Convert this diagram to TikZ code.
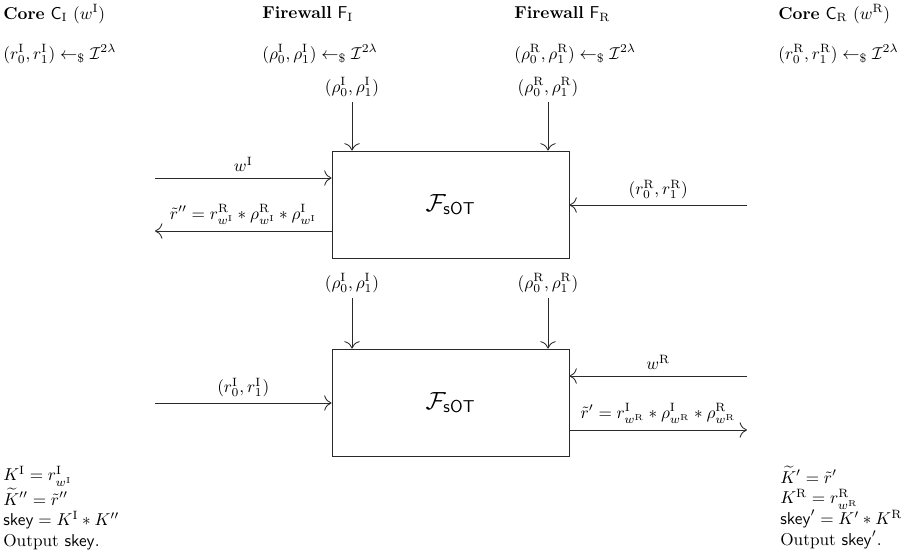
\documentclass[tikz,border=0pt]{standalone}
\usepackage{amsmath}
\usepackage{amssymb}
\usepackage{tikz}
\usetikzlibrary{arrows.meta, positioning, calc}
\definecolor{lineink}{HTML}{2A2A2A}
\tikzset{
  sotbox/.style={draw=lineink, minimum width=137.7pt, minimum height=62.2pt, inner sep=0pt,
    font=\Large, line width=0.5pt},
  head/.style={anchor=west, inner sep=0pt},
  block/.style={anchor=north west, inner sep=0pt, align=left},
  flow/.style={-{To[length=1.5mm]}, draw=lineink, line width=0.5pt}
}

\begin{document}
\begin{tikzpicture}[x=0.581pt, y=-0.581pt]
\useasboundingbox (0,0) rectangle (907,551);
\node[head] (coreI) at (3,14) {\textbf{Core} $\mathsf{C}_{\mathrm{I}}$ $(w^{\mathrm{I}})$};
\node[head] (fwI) at (262,14) {\textbf{Firewall} $\mathsf{F}_{\mathrm{I}}$};
\node[head] (fwR) at (514,14) {\textbf{Firewall} $\mathsf{F}_{\mathrm{R}}$};
\node[head] (coreR) at (778,14) {\textbf{Core} $\mathsf{C}_{\mathrm{R}}$ $(w^{\mathrm{R}})$};
\node[head] (sampI) at (3,54) {$(r^{\mathrm{I}}_0, r^{\mathrm{I}}_1) \leftarrow_{\$} \mathcal{I}^{2\lambda}$};
\node[head] (sampFI) at (262,54) {$(\rho^{\mathrm{I}}_0, \rho^{\mathrm{I}}_1) \leftarrow_{\$} \mathcal{I}^{2\lambda}$};
\node[head] (sampFR) at (514,54) {$(\rho^{\mathrm{R}}_0, \rho^{\mathrm{R}}_1) \leftarrow_{\$} \mathcal{I}^{2\lambda}$};
\node[head] (sampR) at (778,54) {$(r^{\mathrm{R}}_0, r^{\mathrm{R}}_1) \leftarrow_{\$} \mathcal{I}^{2\lambda}$};
\node[sotbox] (sotA) at (450.5,204.5) {$\mathcal{F}_{\mathsf{sOT}}$};
\node[sotbox] (sotB) at (450.5,402.5) {$\mathcal{F}_{\mathsf{sOT}}$};
\node (rhoIa) at (352,87) {$(\rho^{\mathrm{I}}_0, \rho^{\mathrm{I}}_1)$};
\node (rhoRa) at (548,87) {$(\rho^{\mathrm{R}}_0, \rho^{\mathrm{R}}_1)$};
\node (rhoIb) at (352,283) {$(\rho^{\mathrm{I}}_0, \rho^{\mathrm{I}}_1)$};
\node (rhoRb) at (548,283) {$(\rho^{\mathrm{R}}_0, \rho^{\mathrm{R}}_1)$};
\coordinate (inA) at (155,178);
\coordinate (outA) at (155,231);
\coordinate (inRA) at (747,205);
\coordinate (inLB) at (155,403);
\coordinate (inB) at (747,376);
\coordinate (outB) at (747,430);
\draw[flow] (rhoIa) -- (rhoIa |- sotA.north); \draw[flow] (rhoRa) -- (rhoRa |- sotA.north);
\draw[flow] (rhoIb) -- (rhoIb |- sotB.north); \draw[flow] (rhoRb) -- (rhoRb |- sotB.north);
\draw[flow] (inA) -- node[above] {$w^{\mathrm{I}}$} (inA -| sotA.west);
\draw[flow] (outA -| sotA.west) -- node[above] {$\tilde{r}'' = r^{\mathrm{R}}_{w^{\mathrm{I}}} * \rho^{\mathrm{R}}_{w^{\mathrm{I}}} * \rho^{\mathrm{I}}_{w^{\mathrm{I}}}$} (outA);
\draw[flow] (inRA) -- node[above] {$(r^{\mathrm{R}}_0, r^{\mathrm{R}}_1)$} (inRA -| sotA.east);
\draw[flow] (inLB) -- node[above] {$(r^{\mathrm{I}}_0, r^{\mathrm{I}}_1)$} (inLB -| sotB.west);
\draw[flow] (inB) -- node[above] {$w^{\mathrm{R}}$} (inB -| sotB.east);
\draw[flow] (outB -| sotB.east) -- node[above] {$\tilde{r}' = r^{\mathrm{I}}_{w^{\mathrm{R}}} * \rho^{\mathrm{I}}_{w^{\mathrm{R}}} * \rho^{\mathrm{R}}_{w^{\mathrm{R}}}$} (outB);
\node[block] (keyI) at (3,466) {$K^{\mathrm{I}} = r^{\mathrm{I}}_{w^{\mathrm{I}}}$\\
  $\widetilde{K}'' = \tilde{r}''$\\
  $\mathsf{skey} = K^{\mathrm{I}} * K''$\\
  Output $\mathsf{skey}$.};
\node[block] (keyR) at (780,466) {$\widetilde{K}' = \tilde{r}'$\\
  $K^{\mathrm{R}} = r^{\mathrm{R}}_{w^{\mathrm{R}}}$\\
  $\mathsf{skey}' = K' * K^{\mathrm{R}}$\\
  Output $\mathsf{skey}'$.};
\end{tikzpicture}
\end{document}
